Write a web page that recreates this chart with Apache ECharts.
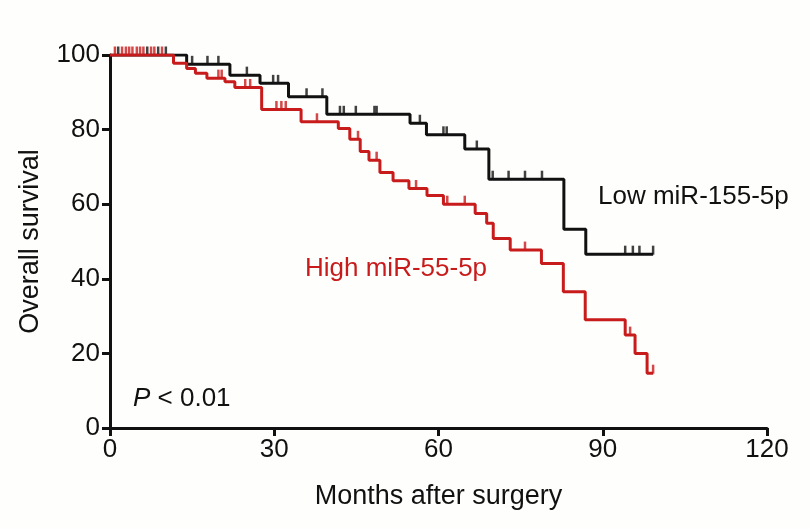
<!DOCTYPE html>
<html>
<head>
<meta charset="utf-8">
<script src="https://cdn.jsdelivr.net/npm/echarts@6/dist/echarts.min.js"></script>
<style>
  html, body { margin: 0; padding: 0; background: #fefefc; }
  #survival { width: 810px; height: 529px; }
</style>
</head>
<body>
<div id="survival"></div>
<script>
// 生存曲线数据 (月, 生存率%)
var xTicks = [0, 30, 60, 90, 120];
var yTicks = [0, 20, 40, 60, 80, 100];

// Low miR-155-5p 事件点
var lowTimes = [0, 14.0, 21.9, 27.4, 32.6, 39.6, 54.8, 57.8, 64.8, 69.2, 82.9, 86.9, 99.2];
var lowSurv = [100, 97.5, 94.6, 92.4, 88.8, 84.1, 81.7, 78.6, 74.8, 66.7, 53.3, 46.6, 46.6];
// Low 删失点
var lowCensorTimes = [1.5, 6.8, 8.8, 10.2, 15.0, 17.8, 19.8, 25.0, 29.8, 30.7, 35.9, 38.8, 42.0, 42.7, 44.9, 48.3, 48.7, 56.6, 60.9, 61.5, 67.0, 69.9, 72.8, 75.8, 78.9, 94.1, 95.5, 96.7, 99.2];
var lowCensorSurv = [100, 100, 100, 100, 97.5, 97.5, 97.5, 94.6, 92.4, 92.4, 88.8, 88.8, 84.1, 84.1, 84.1, 84.1, 84.1, 81.7, 78.6, 78.6, 74.8, 66.7, 66.7, 66.7, 66.7, 46.6, 46.6, 46.6, 46.6];

// High miR-55-5p 事件点
var highTimes = [0, 11.6, 14.0, 15.6, 17.7, 21.0, 22.8, 27.7, 34.9, 41.7, 43.8, 45.7, 47.3, 49.3, 51.7, 54.6, 57.9, 60.9, 66.7, 68.8, 70.0, 73.1, 78.8, 82.8, 86.8, 94.1, 95.9, 98.1, 99.2];
var highSurv = [100, 97.8, 96.4, 95.1, 93.8, 92.8, 91.3, 85.4, 82.1, 80.3, 77.4, 74.1, 71.8, 68.5, 66.3, 64.2, 62.3, 60.0, 57.5, 54.9, 50.8, 47.7, 44.1, 36.5, 29.0, 24.9, 20.0, 14.7, 14.7];
// High 删失点
var highCensorTimes = [0.9, 2.2, 2.9, 3.5, 4.1, 4.9, 5.5, 6.1, 7.5, 8.1, 9.5, 19.8, 20.4, 24.7, 25.6, 30.4, 31.3, 32.1, 37.8, 45.3, 48.7, 55.9, 61.6, 64.8, 75.8, 95.0, 99.2];
var highCensorSurv = [100, 100, 100, 100, 100, 100, 100, 100, 100, 100, 100, 93.8, 93.8, 91.3, 91.3, 85.4, 85.4, 85.4, 82.1, 77.4, 71.8, 64.2, 60.0, 60.0, 47.7, 24.9, 14.7];

var black = '#111111';
var red = '#c81b1b';
var fontName = 'Liberation Sans, Arial, sans-serif';

function pairs(xs, ys) {
    var out = [];
    for (var i = 0; i < xs.length; i++) {
        out.push([xs[i], ys[i]]);
    }
    return out;
}

var survChart = echarts.init(document.getElementById('survival'));
survChart.setOption({
    backgroundColor: '#fefefc',
    animation: false,
    grid: { left: 110, right: 43, top: 55, bottom: 101 },
    xAxis: {
        type: 'value',
        min: xTicks[0],
        max: xTicks[xTicks.length - 1],
        interval: 30,
        name: 'Months after surgery',
        nameLocation: 'middle',
        nameGap: 55,
        nameTextStyle: { fontSize: 27, color: black, fontFamily: fontName },
        axisLine: { lineStyle: { color: black, width: 3 } },
        axisTick: { length: 8, lineStyle: { color: black, width: 3 } },
        axisLabel: { fontSize: 26, color: black, fontFamily: fontName, margin: 9 },
        splitLine: { show: false }
    },
    yAxis: {
        type: 'value',
        min: yTicks[0],
        max: yTicks[yTicks.length - 1],
        interval: 20,
        name: 'Overall survival',
        nameLocation: 'middle',
        nameGap: 66,
        nameTextStyle: { fontSize: 27, color: black, fontFamily: fontName },
        axisLine: { show: true, lineStyle: { color: black, width: 3 } },
        axisTick: { show: true, length: 8, lineStyle: { color: black, width: 3 } },
        axisLabel: { fontSize: 26, color: black, fontFamily: fontName, margin: 10 },
        splitLine: { show: false }
    },
    series: [
        {
            name: 'Low miR-155-5p',
            type: 'line',
            step: 'end',
            data: pairs(lowTimes, lowSurv),
            symbol: 'none',
            lineStyle: { color: black, width: 3 },
            z: 2
        },
        {
            type: 'scatter',
            data: pairs(lowCensorTimes, lowCensorSurv),
            symbol: 'rect',
            symbolSize: [2.5, 9],
            symbolOffset: [0, -4],
            itemStyle: { color: black },
            z: 3
        },
        {
            name: 'High miR-55-5p',
            type: 'line',
            step: 'end',
            data: pairs(highTimes, highSurv),
            symbol: 'none',
            lineStyle: { color: red, width: 3 },
            z: 4
        },
        {
            type: 'scatter',
            data: pairs(highCensorTimes, highCensorSurv),
            symbol: 'rect',
            symbolSize: [2.5, 9],
            symbolOffset: [0, -4],
            itemStyle: { color: red },
            z: 5
        }
    ],
    graphic: [
        {
            type: 'text', left: 598, top: 184,
            style: { text: 'Low miR-155-5p', fontSize: 26, fill: black, fontFamily: fontName }
        },
        {
            type: 'text', left: 305, top: 256,
            style: { text: 'High miR-55-5p', fontSize: 26, fill: red, fontFamily: fontName }
        },
        {
            type: 'text', left: 133, top: 386,
            style: {
                text: '{i|P} < 0.01',
                fontSize: 26, fill: black, fontFamily: fontName,
                rich: { i: { fontStyle: 'italic', fontSize: 26, fontFamily: fontName } }
            }
        }
    ]
});
</script>
</body>
</html>
